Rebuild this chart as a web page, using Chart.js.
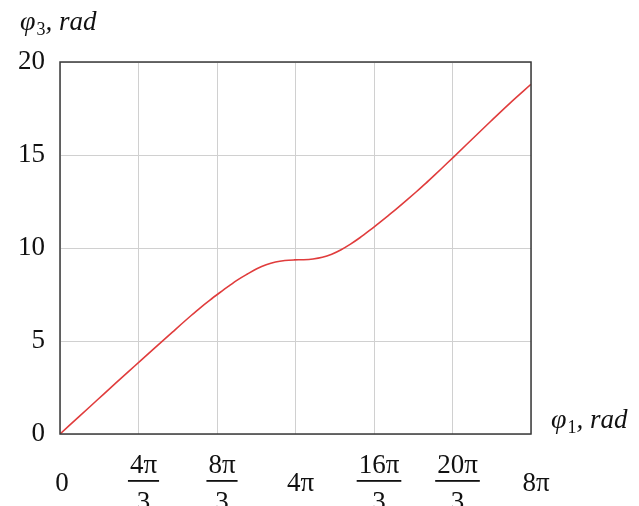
<!DOCTYPE html>
<html>
<head>
<meta charset="utf-8">
<script src="https://cdn.jsdelivr.net/npm/chart.js@4.4.1/dist/chart.umd.min.js"></script>
<style>
  html, body { margin: 0; padding: 0; background: #fff; }
  #wrap { width: 639px; height: 506px; position: relative; }
</style>
</head>
<body>
<div id="wrap"><canvas id="c"></canvas></div>
<script>
// Input angle φ1 (rad) and output angle φ3 (rad)
const phi1 = [0, 1.0, 2.0, 3.0, 4.0, 5.0, 6.0, 7.0, 7.5, 8.0, 8.5, 9.0, 9.5, 10.0, 10.5, 11.0, 11.5, 12.0, 12.5, 13.0, 13.5, 14.0, 14.5, 15.0, 15.5, 16.0, 16.5, 17.0, 17.5, 18.0, 18.5, 19.0, 19.5, 20.0, 20.5, 21.0, 22.0, 23.0, 24.0, 25.13];
const phi3 = [0, 0.92, 1.84, 2.76, 3.67, 4.58, 5.48, 6.37, 6.8, 7.2, 7.58, 7.95, 8.3, 8.6, 8.88, 9.1, 9.25, 9.33, 9.36, 9.37, 9.41, 9.5, 9.67, 9.91, 10.21, 10.55, 10.93, 11.33, 11.73, 12.14, 12.57, 13.01, 13.46, 13.93, 14.41, 14.89, 15.86, 16.83, 17.78, 18.8];

// x-axis ticks: multiples of 4π/3 from 0 to 8π
const xTickValues = [0, 1, 2, 3, 4, 5, 6].map(k => k * 4 * Math.PI / 3);
const xTickNumer = ["0", "4π", "8π", "4π", "16π", "20π", "8π"];
const xTickDenom = ["", "3", "3", "", "3", "3", ""];
const yTickValues = [0, 5, 10, 15, 20];

const serif = '"Liberation Serif", "Times New Roman", serif';

const axisDecor = {
  id: 'axisDecor',
  afterDraw(chart) {
    const { ctx, chartArea: a, scales } = chart;
    ctx.save();
    // plot frame
    ctx.strokeStyle = '#3a3a3a';
    ctx.lineWidth = 1.5;
    ctx.strokeRect(a.left, a.top, a.right - a.left, a.bottom - a.top);

    // x tick labels (with fractions)
    ctx.fillStyle = '#111';
    ctx.textAlign = 'center';
    ctx.textBaseline = 'middle';
    ctx.font = '27px ' + serif;
    xTickValues.forEach((v, i) => {
      const x = scales.x.getPixelForValue(v) + (i === 0 ? 2 : 5);
      if (xTickDenom[i]) {
        const w = ctx.measureText(xTickNumer[i]).width;
        ctx.fillText(xTickNumer[i], x, 466);
        ctx.fillRect(x - w / 2 - 2, 480, w + 4, 1.8);
        ctx.fillText(xTickDenom[i], x, 503);
      } else {
        ctx.fillText(xTickNumer[i], x, 484);
      }
    });

    // axis titles
    function title(x, y, sub) {
      ctx.textAlign = 'left';
      ctx.textBaseline = 'alphabetic';
      ctx.font = 'italic 28px ' + serif;
      ctx.fillText('φ', x, y);
      let cx = x + ctx.measureText('φ').width + 1;
      ctx.font = '18px ' + serif;
      ctx.fillText(sub, cx, y + 5);
      cx += ctx.measureText(sub).width;
      ctx.font = 'italic 27px ' + serif;
      ctx.fillText(', rad', cx, y);
    }
    title(20, 30, '3');
    title(551, 428, '1');
    ctx.restore();
  }
};

new Chart(document.getElementById('c'), {
  type: 'line',
  data: {
    datasets: [{
      data: phi1.map((x, i) => ({ x, y: phi3[i] })),
      borderColor: '#e03c3c',
      borderWidth: 1.6,
      pointRadius: 0,
      fill: false,
      cubicInterpolationMode: 'monotone'
    }]
  },
  options: {
    responsive: true,
    maintainAspectRatio: false,
    animation: false,
    layout: { padding: { left: 0, top: 62, right: 108, bottom: 0 } },
    plugins: { legend: { display: false }, tooltip: { enabled: false } },
    scales: {
      x: {
        type: 'linear',
        min: 0,
        max: 8 * Math.PI,
        afterBuildTicks(s) { s.ticks = xTickValues.map(v => ({ value: v })); },
        afterFit(s) { s.height = 72; },
        ticks: { display: false },
        grid: { color: '#d0d0d0', lineWidth: 1, drawTicks: false },
        border: { display: false }
      },
      y: {
        min: 0,
        max: 20,
        afterBuildTicks(s) { s.ticks = yTickValues.map(v => ({ value: v })); },
        afterFit(s) { s.width = 60; },
        ticks: {
          color: '#111',
          padding: 15,
          font: { family: serif, size: 27 }
        },
        grid: { color: '#d0d0d0', lineWidth: 1, drawTicks: false },
        border: { display: false }
      }
    }
  },
  plugins: [axisDecor]
});
</script>
</body>
</html>
